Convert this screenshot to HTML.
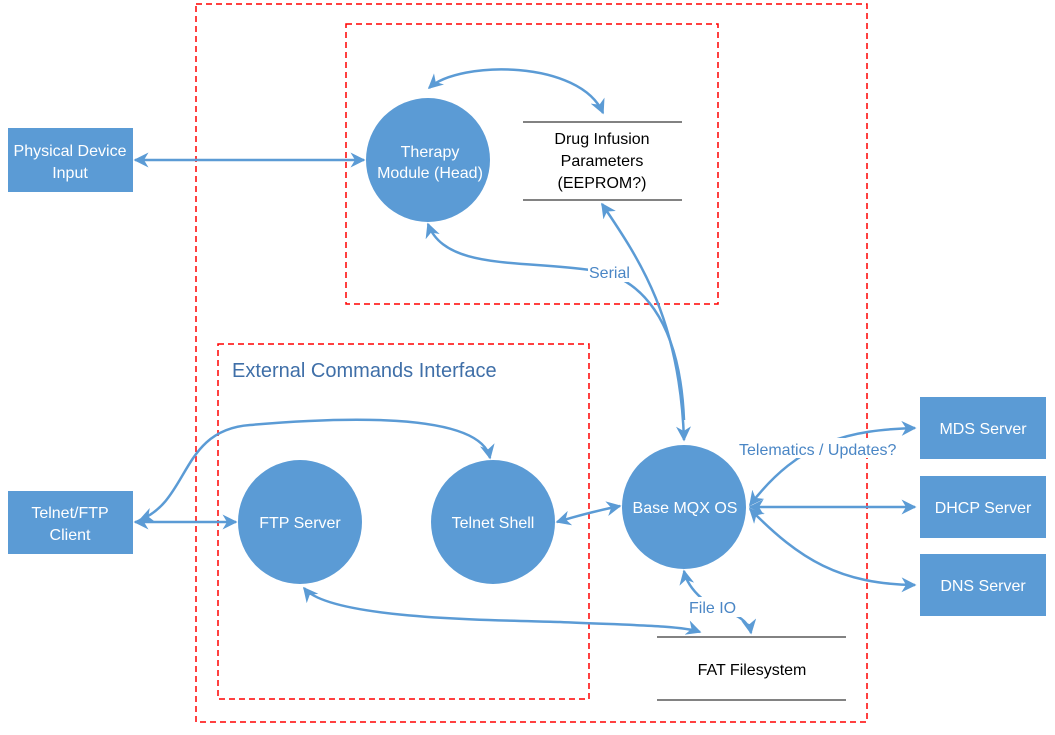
<!DOCTYPE html>
<html><head><style>body{margin:0;background:#fff}svg{display:block}text{font-family:"Liberation Sans",sans-serif}</style></head><body>
<svg width="1055" height="735" viewBox="0 0 1055 735">
<defs>
<marker id="a" viewBox="0 0 10 10" refX="9" refY="5" markerWidth="6" markerHeight="6" orient="auto-start-reverse"><path d="M0,0L10,5L0,10L3,5z" fill="#5b9bd5"/></marker>
</defs>
<g fill="none" stroke="#ff0000" stroke-width="1.5" stroke-dasharray="6,4">
<rect x="196" y="4" width="671" height="718"/>
<rect x="346" y="24" width="372" height="280"/>
<rect x="218" y="344" width="371" height="355"/>
</g>
<g stroke="#595959" stroke-width="1.5">
<line x1="523" y1="122" x2="682" y2="122"/><line x1="523" y1="200" x2="682" y2="200"/>
<line x1="657" y1="637" x2="846" y2="637"/><line x1="657" y1="700" x2="846" y2="700"/>
</g>
<g fill="#5b9bd5">
<circle cx="428" cy="160" r="62"/><circle cx="300" cy="522" r="62"/><circle cx="493" cy="522" r="62"/><circle cx="684" cy="507" r="62"/>
<rect x="8" y="128" width="125" height="64"/><rect x="8" y="491" width="125" height="63"/>
<rect x="920" y="397" width="126" height="62"/><rect x="920" y="476" width="126" height="62"/><rect x="920" y="554" width="126" height="62"/>
</g>
<g fill="none" stroke="#5b9bd5" stroke-width="2.5" marker-start="url(#a)" marker-end="url(#a)">
<path d="M135,160 L364,160"/>
<path d="M429,88 C460,60 580,60 603,113"/>
<path d="M602,204 C640,260 680,320 684,440"/>
<path d="M135,522 L236,522"/>
<path d="M140,520 C190,500 180,430 250,425 C330,418 480,410 490,458"/>
<path d="M557,522 C580,515 600,510 620,506"/>
<path d="M304,588 C330,620 500,620 560,622 C620,625 680,625 700,632"/>
<path d="M684,571 C688,590 710,610 735,615 C745,620 750,627 751,633"/>
<path d="M750,505 C800,440 850,430 915,428"/>
<path d="M750,507 L915,507"/>
<path d="M750,509 C800,560 840,584 915,585"/>
</g>
<path d="M428,224 C445,270 520,260 590,270 C640,275 680,320 684,420" fill="none" stroke="#5b9bd5" stroke-width="2.5" marker-start="url(#a)"/>
<rect x="588" y="264" width="46" height="18" fill="#fff"/>
<rect x="738" y="438" width="172" height="20" fill="#fff"/>
<rect x="688" y="597" width="54" height="20" fill="#fff"/>
<g font-size="16" fill="#4a86c5">
<text x="589" y="278">Serial</text>
<text x="739" y="455">Telematics / Updates?</text>
<text x="689" y="613">File IO</text>
</g>
<text x="232" y="377" font-size="20" fill="#3f6fa8">External Commands Interface</text>
<g font-size="16" fill="#fff" text-anchor="middle">
<text x="430" y="157">Therapy</text><text x="430" y="178">Module (Head)</text>
<text x="300" y="528">FTP Server</text><text x="493" y="528">Telnet Shell</text><text x="685" y="513">Base MQX OS</text>
<text x="70" y="156">Physical Device</text><text x="70" y="178">Input</text>
<text x="70" y="518">Telnet/FTP</text><text x="70" y="540">Client</text>
<text x="983" y="434">MDS Server</text><text x="983" y="513">DHCP Server</text><text x="983" y="591">DNS Server</text>
</g>
<g font-size="16" fill="#000" text-anchor="middle">
<text x="602" y="144">Drug Infusion</text><text x="602" y="166">Parameters</text><text x="602" y="188">(EEPROM?)</text>
<text x="752" y="675">FAT Filesystem</text>
</g>
</svg>
</body></html>
